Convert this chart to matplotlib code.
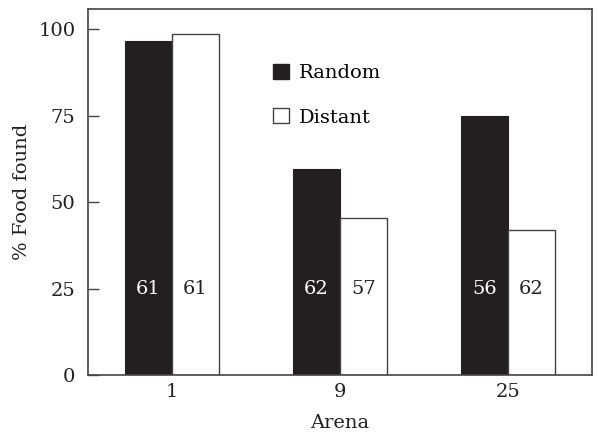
import matplotlib
matplotlib.use("Agg")
import matplotlib.pyplot as plt
import numpy as np
from matplotlib.patches import Patch

arenas = ["1", "9", "25"]
random_found = [96.5, 59.5, 75.0]
distant_found = [98.5, 45.5, 42.0]
random_n = [61, 62, 56]
distant_n = [61, 57, 62]
y_ticks = [0, 25, 50, 75, 100]

plt.rcParams["font.family"] = ["DejaVu Serif"]
dark = "#231f20"
edge = "#444444"
fs = 14

fig = plt.figure(figsize=(5.98, 4.33), dpi=100)
ax = fig.add_axes([0.147, 0.134, 0.843, 0.845])

x = np.arange(len(arenas))
w = 0.28
ax.bar(x - w / 2, random_found, width=w, color=dark, edgecolor=dark, linewidth=0.8)
ax.bar(x + w / 2, distant_found, width=w, color="white", edgecolor=edge, linewidth=1.0)

for xi, n in zip(x - w / 2, random_n):
    ax.text(xi, 25, str(n), color="white", ha="center", va="center", fontsize=fs)
for xi, n in zip(x + w / 2, distant_n):
    ax.text(xi, 25, str(n), color=dark, ha="center", va="center", fontsize=fs)

ax.set_xlim(-0.5, 2.5)
ax.set_ylim(0, 105.8)
ax.set_xticks(x)
ax.set_xticklabels(arenas)
ax.set_yticks(y_ticks)
ax.tick_params(axis="x", length=0, pad=6, labelsize=fs, colors=dark)
ax.tick_params(axis="y", direction="in", length=8, width=1, pad=9, labelsize=fs, colors=dark)
ax.tick_params(axis="y", color=edge)
for s in ax.spines.values():
    s.set_color(edge)
    s.set_linewidth(1.2)

ax.set_xlabel("Arena", fontsize=fs, color=dark, labelpad=9)
ax.set_ylabel("% Food found", fontsize=fs, color=dark, labelpad=5)

handles = [Patch(facecolor=dark, edgecolor=dark, label="Random"),
           Patch(facecolor="white", edgecolor=edge, label="Distant")]
ax.legend(handles=handles, loc="upper left", bbox_to_anchor=(0.368, 0.85),
          frameon=False, fontsize=fs, handlelength=0.8, handleheight=0.8,
          handletextpad=0.5, labelspacing=1.35, borderaxespad=0, borderpad=0)

fig.savefig("out.png", dpi=100)
